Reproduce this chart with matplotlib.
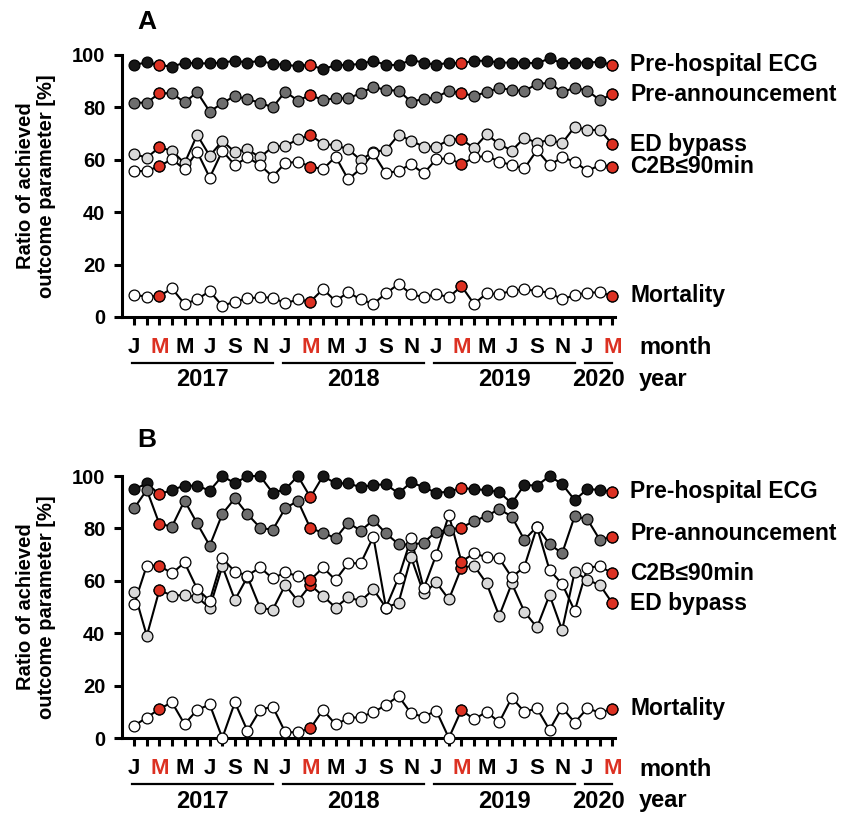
import matplotlib
matplotlib.use("Agg")
import matplotlib.pyplot as plt
import numpy as np

plt.rcParams["font.family"] = ["Liberation Sans", "DejaVu Sans"]
plt.rcParams["font.weight"] = "bold"

RED = "#dc3122"

# months Jan 2017 .. Mar 2020
month_letters = ["J", "F", "M", "A", "M", "J", "J", "A", "S", "O", "N", "D"]
years = ["2017", "2018", "2019", "2020"]
n_months = 39

series_names = ["Pre-hospital ECG", "Pre-announcement", "ED bypass", "C2B\u226490min", "Mortality"]
series_colors = ["#161616", "#6e6e6e", "#d9d9d9", "#ffffff", "#ffffff"]

# panel A
ecg_a = [96.2, 97.2, 96.2, 95.5, 97.1, 96.8, 96.8, 97.1, 97.8, 97.1, 97.8, 96.6, 96.2,
         95.8, 96.2, 94.5, 96.2, 96.2, 96.6, 97.8, 96.2, 96.2, 98.1, 97.1, 96.2, 97.1,
         96.8, 97.8, 97.8, 97.1, 97.1, 97.1, 96.8, 98.7, 96.8, 97.1, 97.1, 97.4, 96.2]
pre_a = [81.8, 81.8, 85.4, 85.4, 81.9, 85.8, 78.4, 81.6, 84.4, 83.1, 81.8, 80.0, 86.0,
         82.6, 84.7, 82.8, 83.5, 83.5, 85.4, 87.9, 86.6, 86.4, 82.2, 83.2, 83.8, 86.4,
         85.4, 84.4, 85.8, 87.5, 86.6, 86.3, 88.9, 89.4, 85.8, 87.5, 86.4, 82.8, 85.1]
ed_a = [62.2, 60.8, 64.8, 63.4, 58.7, 69.5, 61.5, 67.2, 63.0, 64.0, 60.9, 65.0, 65.3,
        67.8, 69.5, 66.0, 65.6, 64.0, 59.9, 63.1, 63.7, 69.5, 67.3, 65.0, 65.0, 67.6,
        67.9, 64.4, 69.7, 66.0, 63.5, 68.4, 66.5, 67.6, 66.3, 72.6, 71.4, 71.4, 65.9]
c2b_a = [55.7, 55.7, 57.6, 60.2, 56.4, 63.1, 53.2, 63.4, 58.0, 60.9, 58.0, 53.6, 58.7,
         59.3, 57.4, 56.4, 61.2, 52.5, 56.7, 62.5, 54.8, 55.8, 58.3, 54.8, 60.2, 60.6,
         58.3, 60.9, 61.5, 59.3, 58.0, 56.7, 63.7, 58.0, 60.9, 59.3, 55.7, 58.0, 57.4]
mort_a = [8.4, 7.8, 8.0, 10.9, 5.0, 6.7, 9.9, 4.2, 5.9, 7.1, 7.5, 7.4, 5.2,
          6.7, 5.9, 10.6, 6.1, 9.4, 6.7, 5.0, 9.0, 12.6, 8.8, 7.5, 8.8, 7.5,
          11.8, 5.0, 9.0, 8.7, 10.0, 10.6, 9.9, 9.3, 6.7, 8.4, 9.3, 9.4, 8.1]

# panel B
ecg_b = [94.9, 97.2, 93.0, 94.7, 96.3, 96.3, 94.4, 100.0, 97.2, 100.0, 100.0, 93.6, 94.9,
         100.0, 91.9, 100.0, 97.2, 97.2, 95.7, 96.6, 96.8, 93.4, 97.6, 95.7, 93.6, 94.0,
         95.5, 94.9, 94.7, 93.8, 89.6, 96.6, 96.3, 100.0, 96.9, 90.8, 95.0, 94.7, 94.0]
pre_b = [87.7, 94.7, 81.7, 80.7, 90.6, 81.9, 73.4, 85.5, 91.5, 85.4, 80.3, 79.4, 87.7,
         90.5, 80.0, 78.4, 76.2, 82.2, 79.1, 83.2, 78.1, 74.0, 73.7, 74.6, 78.8, 79.4,
         80.3, 82.8, 84.7, 87.4, 84.5, 75.6, 80.7, 74.0, 70.5, 84.7, 83.5, 75.6, 76.8]
ed_b = [55.8, 39.0, 56.5, 54.3, 54.6, 53.7, 49.7, 65.6, 52.7, 61.5, 49.7, 48.9, 58.4,
        52.3, 58.4, 54.2, 49.8, 53.7, 52.3, 56.7, 49.8, 51.6, 69.0, 55.2, 59.4, 52.9,
        65.0, 65.8, 59.0, 46.6, 59.0, 48.2, 42.2, 54.6, 41.2, 63.5, 60.3, 58.4, 51.4]
c2b_b = [51.1, 65.8, 65.8, 62.8, 67.0, 56.9, 52.4, 68.6, 63.5, 62.0, 65.1, 60.9, 63.2,
         61.8, 60.3, 65.1, 60.3, 66.7, 66.7, 76.8, 49.8, 61.2, 76.2, 57.1, 70.0, 85.1,
         67.3, 70.5, 69.0, 68.6, 61.3, 65.4, 80.5, 64.1, 58.8, 48.5, 65.0, 65.6, 62.8]
mort_b = [4.7, 7.8, 11.1, 13.6, 5.3, 10.7, 12.8, 0.0, 13.6, 2.7, 10.7, 12.0, 2.2,
          2.2, 3.7, 10.7, 5.2, 7.5, 8.1, 9.8, 12.6, 16.0, 9.4, 8.1, 10.4, 0.0,
          10.7, 7.1, 10.0, 6.0, 15.4, 10.0, 11.3, 3.1, 11.6, 5.9, 11.3, 9.7, 11.1]

W, H = 856, 814
PX = 72.0 / 100  # points per pixel
MS = 7.8


def draw_panel(ax, data, label_pos):
    x = np.arange(n_months)
    march = x[x % 12 == 2]
    # draw order: C2B, ED bypass, pre-announcement, ECG, mortality
    for k in [3, 2, 1, 0, 4]:
        y = np.asarray(data[k])
        ax.plot(x, y, "-", color="k", lw=1.5, zorder=2 + k * 0.1, clip_on=False)
        ax.plot(x, y, "o", ms=MS, mfc=series_colors[k], mec="k", mew=0.9,
                ls="none", zorder=3 + k * 0.1, clip_on=False)
        ax.plot(march, y[march], "o", ms=MS, mfc=RED, mec="k", mew=0.9,
                ls="none", zorder=3.05 + k * 0.1, clip_on=False)
        ax.text(39.4, label_pos[k], series_names[k], fontsize=16.5, fontweight="bold",
                va="center", ha="left", clip_on=False)

    ax.set_xlim(-0.97, 38.2)
    ax.set_ylim(0, 100)
    ax.set_yticks(np.arange(0, 101, 20))
    ax.tick_params(axis="y", length=6, width=2.2, pad=6, labelsize=14.5)
    for t in ax.get_yticklabels():
        t.set_fontweight("bold")
    ax.set_xticks(x)
    ax.set_xticklabels([])
    ax.tick_params(axis="x", length=6, width=2.2)
    for i, tk in enumerate(ax.xaxis.get_major_ticks()):
        if i % 12 == 2:
            tk.tick1line.set_color(RED)
    for s in ["top", "right"]:
        ax.spines[s].set_visible(False)
    ax.spines["left"].set_linewidth(2.2)
    ax.spines["bottom"].set_linewidth(2.2)
    ax.spines["bottom"].set_bounds(-0.97, 38.2)

    trans = ax.get_xaxis_transform()
    for i in range(0, n_months, 2):
        ax.annotate(month_letters[i % 12], xy=(i, 0), xycoords=trans,
                    xytext=(0, -31 * PX), textcoords="offset points",
                    ha="center", va="center", fontsize=16, fontweight="bold",
                    color=RED if i % 12 == 2 else "k", annotation_clip=False)
    ax.annotate("month", xy=(40.1, 0), xycoords=trans, xytext=(0, -31 * PX),
                textcoords="offset points", ha="left", va="center", fontsize=17,
                fontweight="bold", annotation_clip=False)
    ax.annotate("year", xy=(40.1, 0), xycoords=trans, xytext=(0, -63 * PX),
                textcoords="offset points", ha="left", va="center", fontsize=17,
                fontweight="bold", annotation_clip=False)

    bar_y = -46.0 / 262
    for j, yr in enumerate(years):
        start = j * 12
        end = min(start + 11, n_months - 1)
        ax.plot([start - 0.15, end], [bar_y, bar_y], color="k", lw=1.6,
                transform=trans, clip_on=False)
        ax.annotate(yr, xy=((start - 0.15 + end) / 2, 0), xycoords=trans,
                    xytext=(0, -63 * PX), textcoords="offset points",
                    ha="center", va="center", fontsize=17, fontweight="bold",
                    annotation_clip=False)


fig = plt.figure(figsize=(W / 100, H / 100), dpi=100)
left = 122.0 / W
width = 493.0 / W
axA = fig.add_axes([left, 1 - 317.0 / H, width, 262.0 / H])
axB = fig.add_axes([left, 1 - 738.0 / H, width, 262.0 / H])

draw_panel(axA, [ecg_a, pre_a, ed_a, c2b_a, mort_a],
           [ecg_a[-1], pre_a[-1], ed_a[-1], c2b_a[-1], mort_a[-1]])
draw_panel(axB, [ecg_b, pre_b, ed_b, c2b_b, mort_b],
           [ecg_b[-1], pre_b[-1] + 1.2, ed_b[-1], c2b_b[-1], mort_b[-1]])

ylab = "Ratio of achieved\noutcome parameter [%]"
fig.text(36.0 / W, 1 - 186.0 / H, ylab, rotation=90, ha="center", va="center",
         fontsize=14.5, fontweight="bold", multialignment="center", linespacing=1.15)
fig.text(36.0 / W, 1 - 607.0 / H, ylab, rotation=90, ha="center", va="center",
         fontsize=14.5, fontweight="bold", multialignment="center", linespacing=1.15)
fig.text(147.0 / W, 1 - 22.0 / H, "A", ha="center", va="center", fontsize=19, fontweight="bold")
fig.text(147.0 / W, 1 - 440.0 / H, "B", ha="center", va="center", fontsize=19, fontweight="bold")

fig.savefig("out.png", dpi=100)
